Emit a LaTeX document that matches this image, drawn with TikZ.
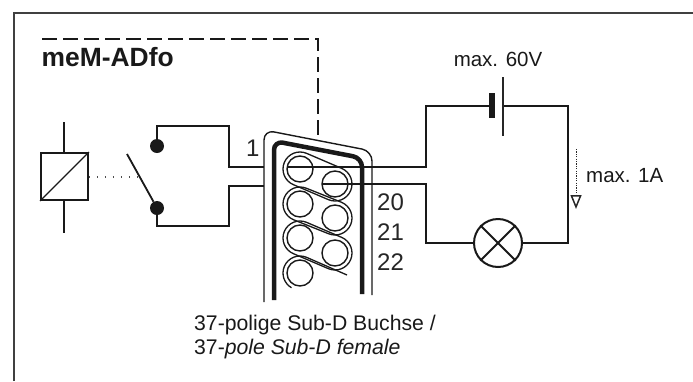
\documentclass[tikz,border=0pt]{standalone}
\usepackage{fontspec}
\setmainfont{Liberation Sans}
\usetikzlibrary{arrows.meta,calc}
\tikzset{
	wire/.style={line width=1.8pt,draw=black!90},
	pin/.style={circle,draw=black!90,line width=1.4pt,minimum size=26pt,inner sep=0pt},
	pad/.style={line width=1.3pt,draw=black!90},
	contact/.style={circle,fill=black!90,minimum size=14pt,inner sep=0pt},
	lbl/.style={inner sep=0pt,text=black!90,font=\fontsize{20.5}{24}\selectfont},
	pinlbl/.style={inner sep=0pt,anchor=west,text=black!85,font=\fontsize{24}{28}\selectfont},
	foot/.style={inner sep=0pt,anchor=west,text=black!90,font=\fontsize{21.2}{24}\selectfont}
}
\begin{document}
\begin{tikzpicture}[x=1pt,y=-1pt]
	\useasboundingbox (0,0) rectangle (693,381);
	\draw [line width=2.2pt,draw=black!75] (14,381) -- (14,13) -- (693,13);
	\node [lbl,anchor=base west,font=\fontsize{26.4}{30}\selectfont\bfseries] (title) at (41.5,66.5) {meM-ADfo};

	\coordinate (dashstart) at (42,39);	\coordinate (dashend) at (318,138);
	\draw [line width=2.8pt,draw=black!90,dash pattern=on 14.5pt off 6.5pt] (dashstart) -- (dashend |- dashstart) -- (dashend);

	\node [draw=black!90,line width=1.8pt,minimum size=47pt,inner sep=0pt] (coil) at (64.5,176.5) {};
	\draw [line width=1.4pt,draw=black!90] (coil.south west) -- (coil.north east);
	\coordinate (coiltop) at (64,122);	\coordinate (coilbot) at (64,233);
	\draw [wire] (coil.north -| coiltop) -- (coiltop);
	\draw [wire] (coil.south -| coilbot) -- (coilbot);

	\node [contact] (upper) at (157,146) {};
	\node [contact] (lower) at (157,208) {};
	\coordinate (armend) at (127,154);	\coordinate (armmid) at (140,177);
	\draw [wire] (armend) -- (lower);
	\draw [line width=1.2pt,draw=black!70,dash pattern=on 1.4pt off 6.6pt] (coil.east |- armmid) -- (armmid);

	% connector
	\draw [line width=1.4pt,draw=black!90,rounded corners=10pt] (264,302) -- (264,130) -- (372,151) -- (372,295);
	\draw [line width=4.5pt,draw=black!90,rounded corners=9pt] (274,300) -- (274,141) -- (362,158) -- (362,294);
	\foreach \n/\x/\y in {1/300/169,2/335/184,3/300/204,4/335/218,5/300/238,6/335/253,7/300/273}
		\node [pin] (pin\n) at (\x,\y) {};
	\foreach \a/\b in {1/2,3/4,5/6}
		\draw [pad] ($(pin\a)+(-67:17)$) -- ($(pin\b)+(-67:17)$) arc (-67:113:17) -- ($(pin\a)+(113:17)$) arc (113:293:17);
	\coordinate (padend) at (347,275);
	\draw [pad] (padend) -- ($(pin7)+(-67:17)$) arc (-67:-240:17);

	% wires
	\coordinate (jl1) at (264,167);	\coordinate (jl2) at (264,186);
	\draw [wire] (upper) -- (upper |- 0,126) -| (229,167) -- (jl1);
	\draw [wire] (lower) -- (lower |- 0,226) -| (229,186) -- (jl2);

	\node [circle,draw=black!90,line width=2pt,minimum size=48pt,inner sep=0pt] (lamp) at (498,243) {};
	\draw [wire] (lamp.45) -- (lamp.225);
	\draw [wire] (lamp.135) -- (lamp.-45);

	\node [fill=black!90,minimum width=6pt,minimum height=25pt,inner sep=0pt] (batplus) at (492,105.5) {};
	\node [fill=black!85,minimum width=1.8pt,minimum height=59pt,inner sep=0pt] (batminus) at (503,106.5) {};
	\coordinate (jr1) at (287,167);	\coordinate (jr2) at (323,184);
	\draw [wire] (jr1) -| (426,106) -- (batplus.west |- 0,106);
	\draw [wire] (batminus.east |- 0,106) -| (568,243) -- (lamp.east);
	\draw [wire] (jr2) -| (426,243) -- (lamp.west);

	\coordinate (ampstart) at (576,149);	\coordinate (ampend) at (576,209);
	\draw [line width=1pt,draw=black!85,dash pattern=on 1.2pt off 1.2pt,-{Triangle[open,length=14pt,width=11pt,line width=1.5pt]}] (ampstart) -- (ampend);

	\node [lbl] (volt) at (498,59) {max. 60V};
	\node [lbl,anchor=west] (amp) at (586,176) {max. 1A};
	\node [pinlbl] (n1) at (246,148) {1};
	\node [pinlbl] (n20) at (377,202) {20};
	\node [pinlbl] (n21) at (377,232) {21};
	\node [pinlbl] (n22) at (377,262) {22};
	\node [foot] (de) at (194,325) {37-polige Sub-D Buchse /};
	\node [foot] (en) at (194,349) {37-\textit{pole Sub-D female}};
\end{tikzpicture}
\end{document}
